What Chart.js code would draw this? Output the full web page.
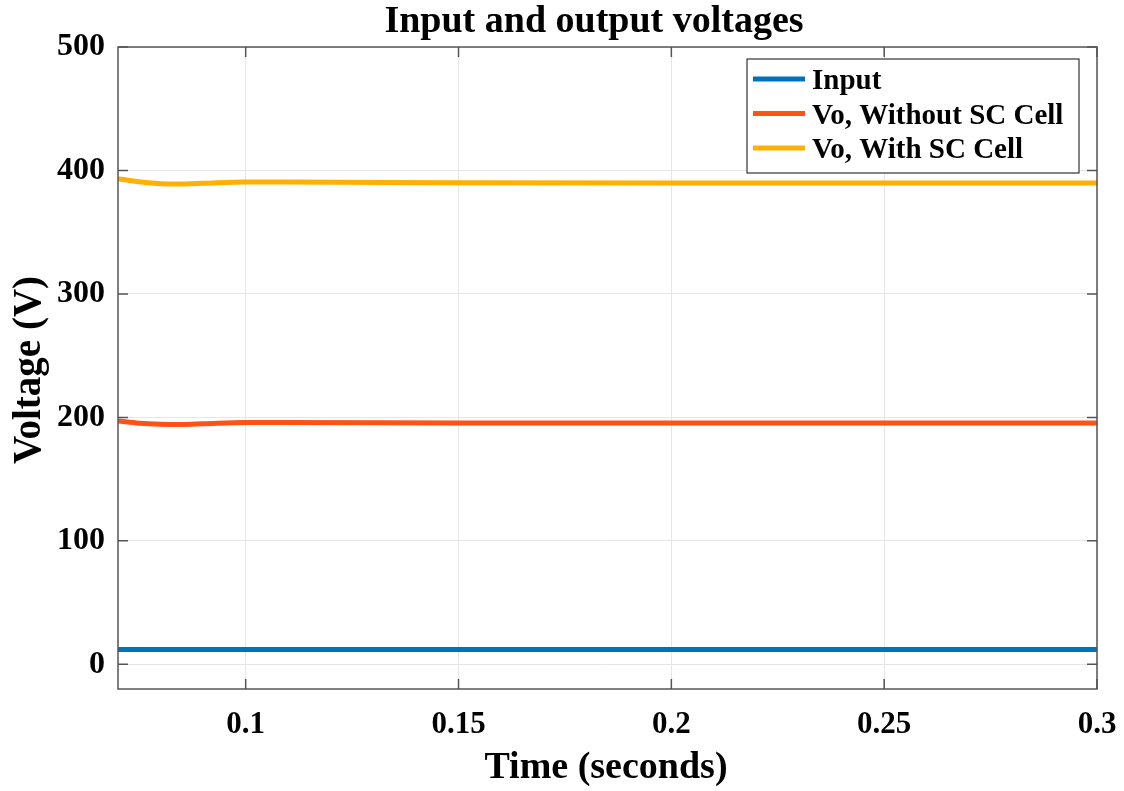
<!DOCTYPE html>
<html>
<head>
<meta charset="utf-8">
<script src="https://cdn.jsdelivr.net/npm/chart.js@4/dist/chart.umd.min.js"></script>
<style>
  html, body { margin: 0; padding: 0; background: #fff; }
  #wrap { width: 1124px; height: 791px; }
</style>
</head>
<body>
<div id="wrap"><canvas id="chart" width="1124" height="791"></canvas></div>
<script>
const TIMES = [0.07, 0.075, 0.08, 0.085, 0.09, 0.1, 0.11, 0.15, 0.2, 0.25, 0.3];
const INPUT_V = [12, 12, 12, 12, 12, 12, 12, 12, 12, 12, 12];
const VO_WITHOUT = [197, 195.3, 194.5, 194.3, 194.8, 195.8, 195.8, 195.5, 195.4, 195.4, 195.4];
const VO_WITH = [393.3, 390.8, 389.3, 389.1, 389.6, 390.6, 390.6, 390, 389.8, 389.8, 389.8];
const X_TICKS = [0.1, 0.15, 0.2, 0.25, 0.3];
const Y_TICKS = [0, 100, 200, 300, 400, 500];
const SERIES_NAMES = ['Input', 'Vo, Without SC Cell', 'Vo, With SC Cell'];
const SERIES_COLORS = ['#0072BD', '#FF5214', '#FFB000'];

const FONT = '"Liberation Serif", "Times New Roman", serif';
const toPoints = vals => vals.map((v, i) => ({ x: TIMES[i], y: v }));

// MATLAB-style decorations: title, axis labels, inward ticks, full box, legend.
const matlabDecor = {
  id: 'matlabDecor',
  afterDraw(chart) {
    const { ctx, chartArea: a, scales: { x, y } } = chart;
    ctx.save();
    ctx.strokeStyle = '#555';
    ctx.lineWidth = 1.5;
    ctx.strokeRect(a.left, a.top, a.right - a.left, a.bottom - a.top);
    ctx.beginPath();
    X_TICKS.forEach(t => {
      const px = x.getPixelForValue(t);
      ctx.moveTo(px, a.bottom); ctx.lineTo(px, a.bottom - 10);
      ctx.moveTo(px, a.top); ctx.lineTo(px, a.top + 10);
    });
    Y_TICKS.forEach(t => {
      const py = y.getPixelForValue(t);
      ctx.moveTo(a.left, py); ctx.lineTo(a.left + 10, py);
      ctx.moveTo(a.right, py); ctx.lineTo(a.right - 10, py);
    });
    ctx.stroke();

    ctx.fillStyle = '#000';
    ctx.textAlign = 'center';
    ctx.textBaseline = 'middle';
    ctx.font = `bold 38px ${FONT}`;
    ctx.fillText('Input and output voltages', 594, 22);
    ctx.font = `bold 38px ${FONT}`;
    ctx.fillText('Time (seconds)', 606, 768);
    ctx.save();
    ctx.translate(30, 370);
    ctx.rotate(-Math.PI / 2);
    ctx.font = `bold 39px ${FONT}`;
    ctx.fillText('Voltage (V)', 0, 0);
    ctx.restore();

    // legend box
    const lx = 747, ly = 59, lw = 332, lh = 114;
    ctx.fillStyle = '#fff';
    ctx.fillRect(lx, ly, lw, lh);
    ctx.strokeStyle = '#333';
    ctx.lineWidth = 1.2;
    ctx.strokeRect(lx, ly, lw, lh);
    ctx.font = `bold 29px ${FONT}`;
    ctx.textAlign = 'left';
    chart.data.datasets.forEach((ds, i) => {
      const cy = ly + 20 + i * 34.5;
      ctx.strokeStyle = ds.borderColor;
      ctx.lineWidth = 5;
      ctx.beginPath();
      ctx.moveTo(lx + 6, cy); ctx.lineTo(lx + 58, cy);
      ctx.stroke();
      ctx.fillStyle = '#000';
      ctx.fillText(ds.label, lx + 65, cy + 3);
    });
    ctx.restore();
  }
};

new Chart(document.getElementById('chart'), {
  type: 'line',
  data: {
    datasets: [
      { label: SERIES_NAMES[0], data: toPoints(INPUT_V), borderColor: SERIES_COLORS[0] },
      { label: SERIES_NAMES[1], data: toPoints(VO_WITHOUT), borderColor: SERIES_COLORS[1] },
      { label: SERIES_NAMES[2], data: toPoints(VO_WITH), borderColor: SERIES_COLORS[2] },
    ].map(ds => ({ ...ds, borderWidth: 5, pointRadius: 0, fill: false, cubicInterpolationMode: 'monotone' }))
  },
  options: {
    responsive: false,
    animation: false,
    layout: { padding: { top: 47, right: 27, left: 0, bottom: 0 } },
    plugins: { legend: { display: false }, title: { display: false }, tooltip: { enabled: false } },
    scales: {
      x: {
        type: 'linear', min: 0.07, max: 0.3,
        afterBuildTicks: s => { s.ticks = X_TICKS.map(v => ({ value: v })); },
        afterFit: s => { s.height = 102; s.paddingRight = 0; s.paddingLeft = 0; },
        grid: { color: '#e6e6e6', lineWidth: 1, drawTicks: false },
        border: { display: false },
        ticks: {
          color: '#000', padding: 17, maxRotation: 0,
          callback: v => String(v),
          font: { family: FONT, size: 31, weight: 'bold' }
        }
      },
      y: {
        min: -20, max: 500,
        afterBuildTicks: s => { s.ticks = Y_TICKS.map(v => ({ value: v })); },
        afterFit: s => { s.width = 118; s.paddingTop = 0; s.paddingBottom = 0; },
        grid: { color: '#e6e6e6', lineWidth: 1, drawTicks: false },
        border: { display: false },
        ticks: { color: '#000', padding: 13, font: { family: FONT, size: 32, weight: 'bold' } }
      }
    }
  },
  plugins: [matlabDecor]
});
</script>
</body>
</html>
